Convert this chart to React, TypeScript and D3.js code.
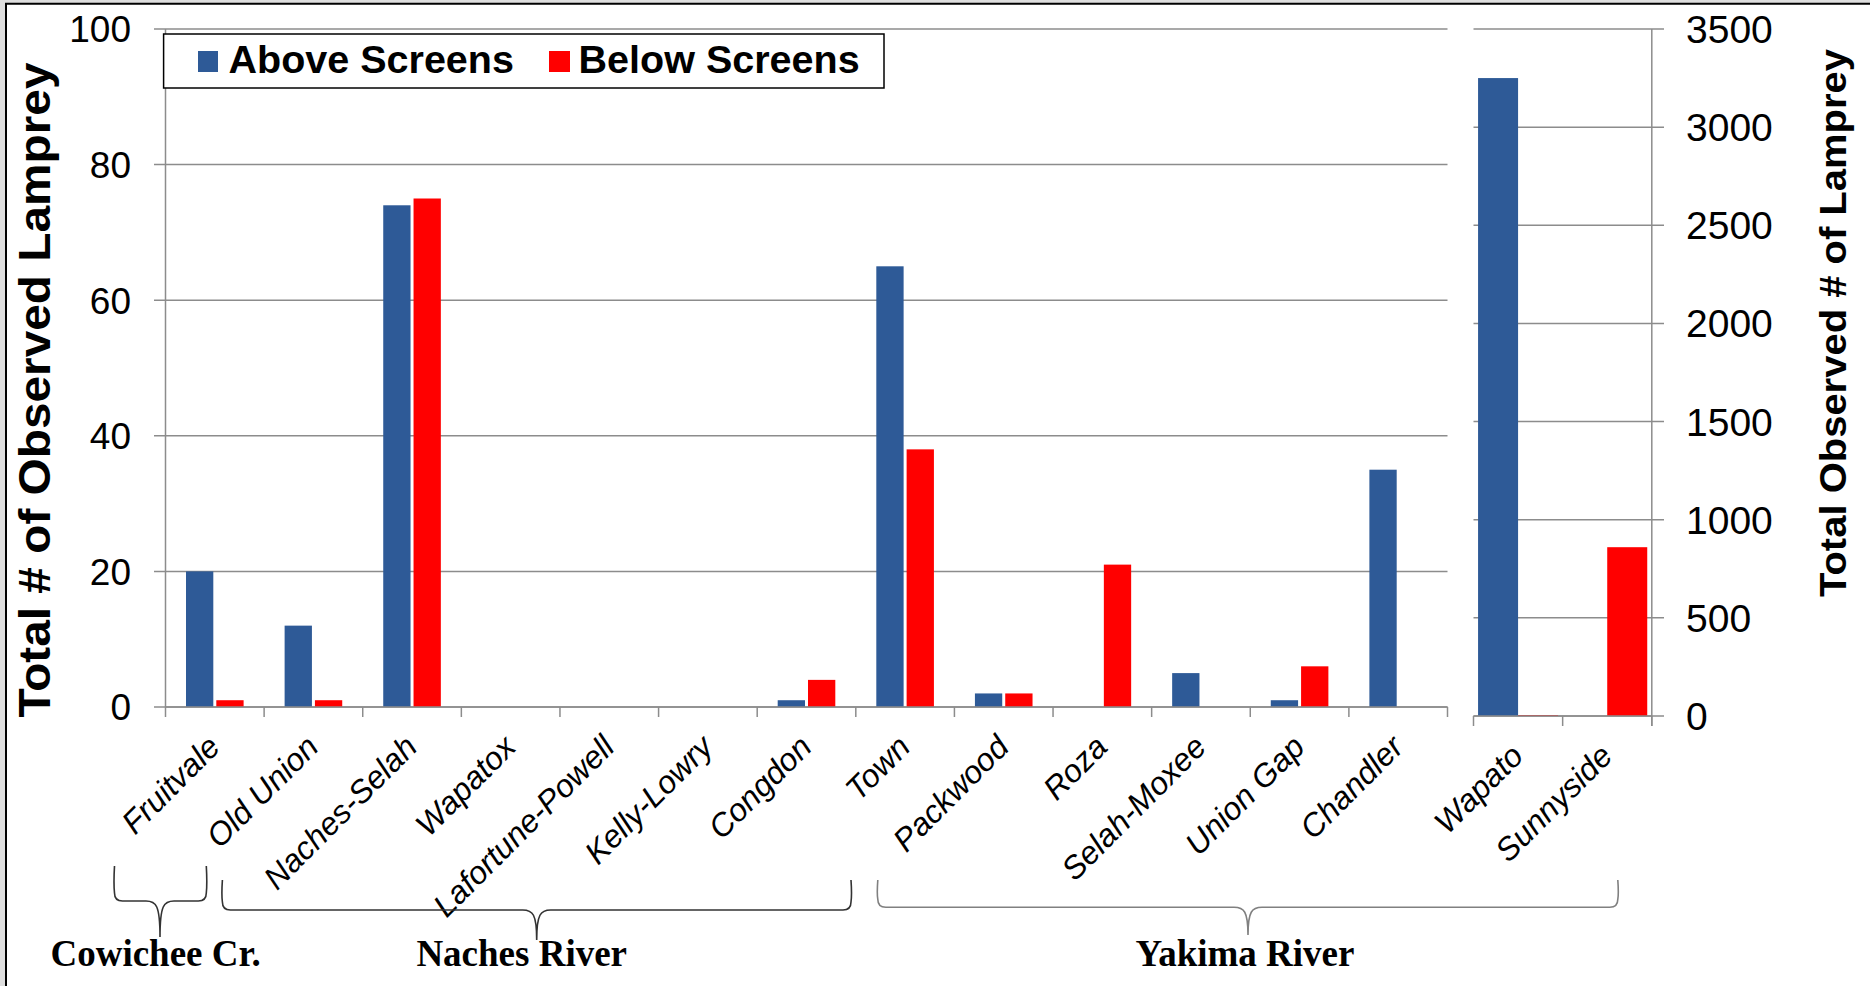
import React from "react";
import * as d3 from "d3";

// ---------- data ----------
const categoriesLeft = [
  "Fruitvale", "Old Union", "Naches-Selah", "Wapatox", "Lafortune-Powell",
  "Kelly-Lowry", "Congdon", "Town", "Packwood", "Roza", "Selah-Moxee",
  "Union Gap", "Chandler",
];
const aboveLeft = [20, 12, 74, 0, 0, 0, 1, 65, 2, 0, 5, 1, 35];
const belowLeft = [1, 1, 75, 0, 0, 0, 4, 38, 2, 21, 0, 6, 0];

const categoriesRight = ["Wapato", "Sunnyside"];
const aboveRight = [3250, 0];
const belowRight = [5, 860];

const seriesNames = ["Above Screens", "Below Screens"];
const seriesColors = ["#2E5A97", "#FF0000"];

const leftTicks = [0, 20, 40, 60, 80, 100];
const rightTicks = [0, 500, 1000, 1500, 2000, 2500, 3000, 3500];

const leftTitle = "Total # of Observed Lamprey";
const rightTitle = "Total Observed # of Lamprey";

const groupNames = ["Cowichee Cr.", "Naches River", "Yakima River"];

// ---------- layout ----------
const W = 1870;
const H = 986;
const L = { x0: 165.5, x1: 1447.5, top: 29, base: 707 };
const R = { x0: 1473.5, x1: 1651.8, top: 29, base: 716 };
const GRID = "#8c8c8c";
const SANS = "'Liberation Sans', Arial, Helvetica, sans-serif";
const SERIF = "'Liberation Serif', 'Times New Roman', serif";

const braces = [
  { x1: 114.5, x2: 206.3, xm: 160, yTop: 866, yH: 901, yTip: 937, lx: 155.6, color: "#333" },
  { x1: 222.4, x2: 851, xm: 536.7, yTop: 880, yH: 910, yTip: 940, lx: 521.7, color: "#333" },
  { x1: 877.8, x2: 1617.8, xm: 1248, yTop: 880, yH: 907.3, yTip: 935, lx: 1245, color: "#808080" },
];

function bracePath(b: any) {
  const r = 8;
  const c = 14;
  return `M${b.x1},${b.yTop} Q${b.x1 - 1},${(b.yTop + b.yH) / 2} ${b.x1},${b.yH - r} Q${b.x1},${b.yH} ${b.x1 + r},${b.yH} L${b.xm - c},${b.yH} C${b.xm - 4},${b.yH} ${b.xm},${b.yH + 4} ${b.xm},${b.yTip} C${b.xm},${b.yH + 4} ${b.xm + 4},${b.yH} ${b.xm + c},${b.yH} L${b.x2 - r},${b.yH} Q${b.x2},${b.yH} ${b.x2},${b.yH - r} Q${b.x2 + 1},${(b.yTop + b.yH) / 2} ${b.x2},${b.yTop}`;
}

export default function App() {
  const xL = d3.scaleBand<string>().domain(categoriesLeft).range([L.x0, L.x1]).padding(0);
  const subL = d3
    .scaleBand<string>()
    .domain(seriesNames)
    .range([0, xL.bandwidth()])
    .paddingInner(0.099)
    .paddingOuter(0.6765);
  const yL = d3.scaleLinear().domain([0, 100]).range([L.base, L.top]);

  const xR = d3.scaleBand<string>().domain(categoriesRight).range([R.x0, R.x1]).padding(0);
  const subR = d3
    .scaleBand<string>()
    .domain(seriesNames)
    .range([0, xR.bandwidth()])
    .paddingInner(0)
    .paddingOuter(0.114);
  const yR = d3.scaleLinear().domain([0, 3500]).range([R.base, R.top]);

  const leftSeries = [aboveLeft, belowLeft];
  const rightSeries = [aboveRight, belowRight];

  const leftBoundaries = categoriesLeft.map((c) => xL(c) as number).concat([L.x1]);
  const rightBoundaries = categoriesRight.map((c) => xR(c) as number).concat([R.x1]);

  return (
    <svg
      width={W}
      height={H}
      style={{ position: "absolute", left: 0, top: 0, background: "#fff" }}
      xmlns="http://www.w3.org/2000/svg"
    >
      <rect x={0} y={0} width={W} height={H} fill="#fff" />
      {/* outer frame */}
      <rect x={0} y={0} width={W} height={3} fill="#dedede" />
      <rect x={0} y={0} width={5} height={H} fill="#dedede" />
      <line x1={5} x2={W} y1={3.8} y2={3.8} stroke="#000" strokeWidth={2} />
      <line x1={6} x2={6} y1={3} y2={H} stroke="#000" strokeWidth={2} />

      {/* left gridlines */}
      {leftTicks.map((t) => (
        <line key={"gl" + t} x1={154} x2={L.x1} y1={yL(t)} y2={yL(t)} stroke={GRID} strokeWidth={1.5} />
      ))}
      <line x1={L.x0} x2={L.x0} y1={L.top} y2={L.base} stroke={GRID} strokeWidth={1.5} />
      {leftBoundaries.map((x, i) => (
        <line key={"tl" + i} x1={x} x2={x} y1={L.base} y2={L.base + 10} stroke={GRID} strokeWidth={1.5} />
      ))}
      {leftTicks.map((t) => (
        <text
          key={"ll" + t}
          x={131}
          y={yL(t)}
          dy="0.36em"
          textAnchor="end"
          fontFamily={SANS}
          fontSize={37}
          fill="#000"
        >
          {t}
        </text>
      ))}

      {/* right gridlines */}
      {rightTicks.map((t) => (
        <line key={"gr" + t} x1={R.x0} x2={1664} y1={yR(t)} y2={yR(t)} stroke={GRID} strokeWidth={1.5} />
      ))}
      <line x1={R.x1} x2={R.x1} y1={R.top} y2={R.base + 10} stroke={GRID} strokeWidth={1.5} />
      {rightBoundaries.map((x, i) => (
        <line key={"tr" + i} x1={x} x2={x} y1={R.base} y2={R.base + 10} stroke={GRID} strokeWidth={1.5} />
      ))}
      {rightTicks.map((t) => (
        <text
          key={"rl" + t}
          x={1686}
          y={yR(t)}
          dy="0.36em"
          textAnchor="start"
          fontFamily={SANS}
          fontSize={39}
          fill="#000"
        >
          {t}
        </text>
      ))}

      {/* left bars */}
      {leftSeries.map((vals, si) =>
        categoriesLeft.map((c, i) => {
          const v = vals[i];
          if (v <= 0) return null;
          const x = (xL(c) as number) + (subL(seriesNames[si]) as number);
          return (
            <rect
              key={"bl" + si + i}
              x={x}
              y={yL(v)}
              width={subL.bandwidth()}
              height={L.base - yL(v)}
              fill={seriesColors[si]}
            />
          );
        })
      )}
      {/* right bars */}
      {rightSeries.map((vals, si) =>
        categoriesRight.map((c, i) => {
          const v = vals[i];
          if (v <= 0) return null;
          const x = (xR(c) as number) + (subR(seriesNames[si]) as number);
          return (
            <rect
              key={"br" + si + i}
              x={x}
              y={yR(v)}
              width={subR.bandwidth()}
              height={R.base - yR(v)}
              fill={seriesColors[si]}
            />
          );
        })
      )}
      <line x1={L.x0} x2={L.x1} y1={L.base} y2={L.base} stroke={GRID} strokeWidth={1.5} />
      <line x1={R.x0} x2={R.x1} y1={R.base} y2={R.base} stroke={GRID} strokeWidth={1.5} />

      {/* category labels */}
      {categoriesLeft.map((c) => {
        const cx = (xL(c) as number) + xL.bandwidth() / 2 + 7;
        const cy = L.base + 42;
        return (
          <text
            key={"cl" + c}
            transform={`translate(${cx},${cy}) rotate(-45)`}
            textAnchor="end"
            fontFamily={SANS}
            fontStyle="italic"
            fontSize={32}
            fill="#000"
          >
            {c}
          </text>
        );
      })}
      {categoriesRight.map((c) => {
        const cx = (xR(c) as number) + xR.bandwidth() / 2 + 7;
        const cy = R.base + 42;
        return (
          <text
            key={"cr" + c}
            transform={`translate(${cx},${cy}) rotate(-45)`}
            textAnchor="end"
            fontFamily={SANS}
            fontStyle="italic"
            fontSize={32}
            fill="#000"
          >
            {c}
          </text>
        );
      })}

      {/* axis titles */}
      <text
        transform={`translate(50,390) rotate(-90)`}
        textAnchor="middle"
        fontFamily={SANS}
        fontWeight="bold"
        fontSize={44}
        textLength={655}
        lengthAdjust="spacingAndGlyphs"
        fill="#000"
      >
        {leftTitle}
      </text>
      <text
        transform={`translate(1846,323) rotate(-90)`}
        textAnchor="middle"
        fontFamily={SANS}
        fontWeight="bold"
        fontSize={36}
        textLength={548}
        lengthAdjust="spacingAndGlyphs"
        fill="#000"
      >
        {rightTitle}
      </text>

      {/* legend */}
      <rect x={163.6} y={34} width={720.4} height={54} fill="#fff" stroke="#000" strokeWidth={1.5} />
      <rect x={198} y={51} width={20} height={21} fill={seriesColors[0]} />
      <text x={228.5} y={73} fontFamily={SANS} fontWeight="bold" fontSize={39.5} fill="#000">
        {seriesNames[0]}
      </text>
      <rect x={549} y={51} width={21} height={21} fill={seriesColors[1]} />
      <text x={578.6} y={73} fontFamily={SANS} fontWeight="bold" fontSize={39.5} fill="#000">
        {seriesNames[1]}
      </text>

      {/* group braces */}
      {braces.map((b, i) => (
        <g key={"brace" + i}>
          <path d={bracePath(b)} fill="none" stroke={b.color} strokeWidth={1.6} />
          <text
            x={b.lx}
            y={966}
            textAnchor="middle"
            fontFamily={SERIF}
            fontWeight="bold"
            fontSize={37}
            fill="#000"
          >
            {groupNames[i]}
          </text>
        </g>
      ))}
    </svg>
  );
}
